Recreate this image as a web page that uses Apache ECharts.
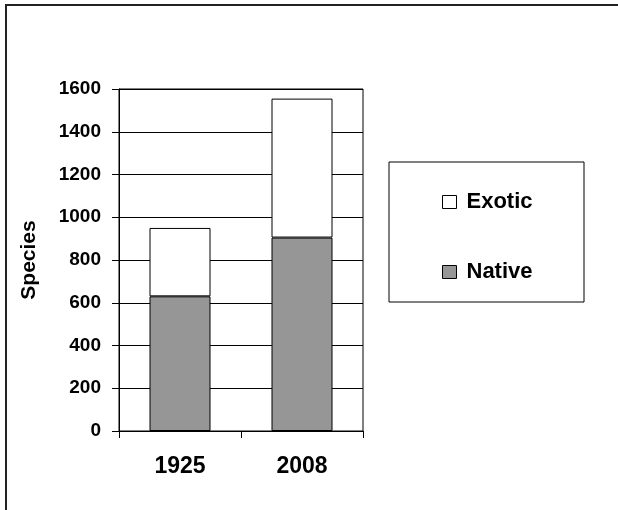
<!DOCTYPE html>
<html>
<head>
<meta charset="utf-8">
<script src="https://cdn.jsdelivr.net/npm/echarts@6/dist/echarts.min.js"></script>
<style>html,body{margin:0;padding:0;background:#fff;}#c{width:618px;height:510px;}</style>
</head>
<body>
<div id="c"></div>
<script>
const categories = ['1925', '2008'];
const nativeValues = [630, 905];
const exoticValues = [320, 650];
const yTicks = [0, 200, 400, 600, 800, 1000, 1200, 1400, 1600];

const FONT = '"Liberation Sans", Arial, sans-serif';
const chart = echarts.init(document.getElementById('c'), null, {renderer: 'canvas'});
chart.setOption({
  animation: false,
  backgroundColor: '#fff',
  grid: {left: 119, right: 255, top: 89, bottom: 79, show: true, borderColor: '#000', borderWidth: 1, backgroundColor: 'transparent'},
  xAxis: {
    type: 'category', data: categories,
    axisLine: {lineStyle: {color: '#000', width: 1}},
    axisTick: {show: true, length: 7, lineStyle: {color: '#000'}},
    axisLabel: {color: '#000', fontFamily: FONT, fontWeight: 'bold', fontSize: 23, margin: 24}
  },
  yAxis: {
    type: 'value', min: yTicks[0], max: yTicks[yTicks.length - 1], interval: 200,
    name: 'Species', nameLocation: 'middle', nameRotate: 90, nameGap: 79,
    nameTextStyle: {color: '#000', fontFamily: FONT, fontWeight: 'bold', fontSize: 21},
    axisLine: {show: true, lineStyle: {color: '#000', width: 1}},
    axisTick: {show: true, length: 7, lineStyle: {color: '#000'}},
    splitLine: {show: true, lineStyle: {color: '#000', width: 1}},
    axisLabel: {color: '#000', fontFamily: FONT, fontWeight: 'bold', fontSize: 19, margin: 18,
      formatter: v => String(v)}
  },
  legend: {
    data: ['Exotic', 'Native'], orient: 'vertical', left: 437, top: 186,
    icon: 'rect', itemWidth: 14, itemHeight: 13, itemGap: 48,
    itemStyle: {borderColor: '#000', borderWidth: 1},
    textStyle: {color: '#000', fontFamily: FONT, fontWeight: 'bold', fontSize: 22, lineHeight: 22, padding: [0, 0, 0, 5]}
  },
  graphic: [
    {type: 'rect', shape: {x: 389, y: 162, width: 195, height: 140}, style: {fill: 'transparent', stroke: '#000', lineWidth: 1}, z: -1},
    {type: 'polyline', shape: {points: [[6, 520], [6, 5], [630, 5]]}, style: {fill: null, stroke: '#222', lineWidth: 2}, z: 100}
  ],
  series: [
    {name: 'Native', type: 'bar', stack: 'total', data: nativeValues, barWidth: 61,
     itemStyle: {color: '#969696', borderColor: '#000', borderWidth: 1}},
    {name: 'Exotic', type: 'bar', stack: 'total', data: exoticValues, barWidth: 61,
     itemStyle: {color: '#ffffff', borderColor: '#000', borderWidth: 1}}
  ]
});
</script>
</body>
</html>
